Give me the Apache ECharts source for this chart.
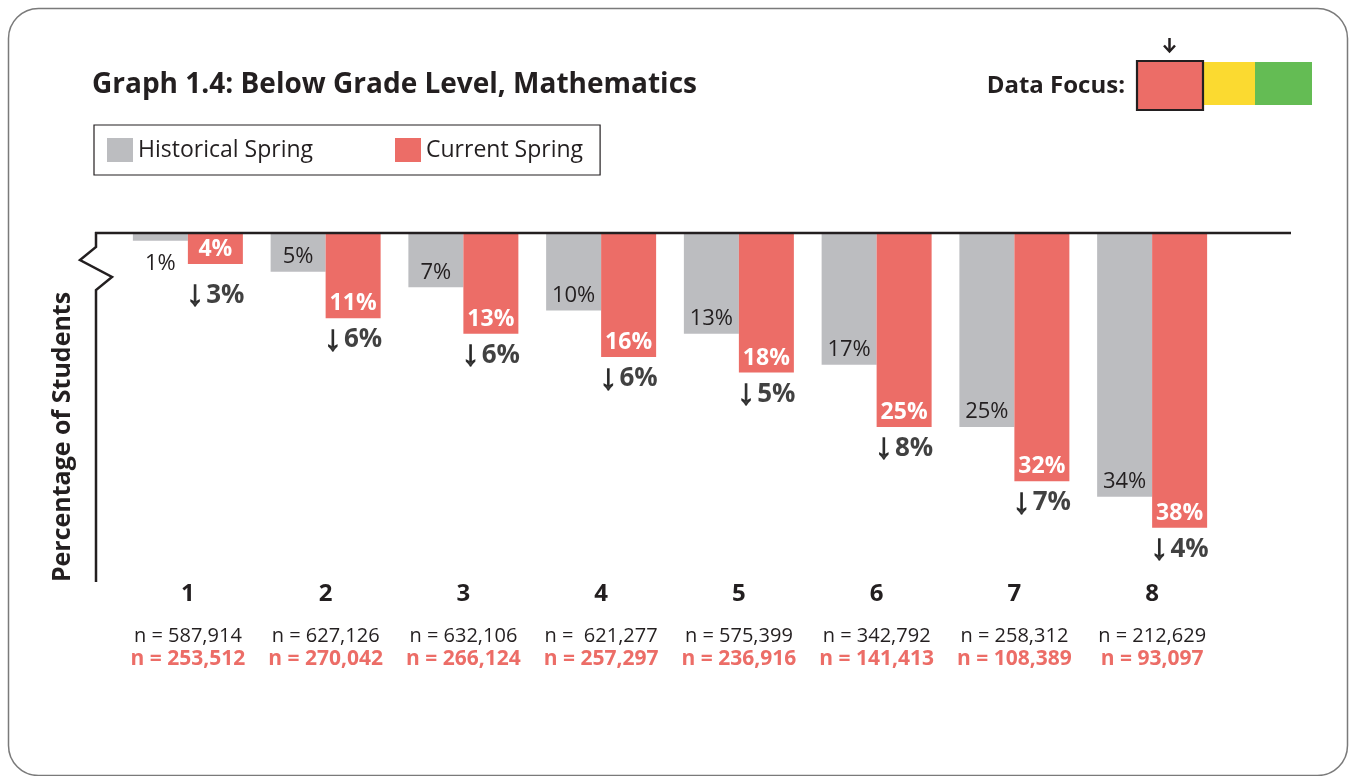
<!DOCTYPE html>
<html>
<head>
<meta charset="utf-8">
<script src="https://cdn.jsdelivr.net/npm/echarts@6/dist/echarts.min.js"></script>
<style>
html,body{margin:0;padding:0;background:#fff;}
#chart{width:1353px;height:776px;}
</style>
</head>
<body>
<div id="chart"></div>
<script>
const grades = ['1','2','3','4','5','6','7','8'];
const historical = [1, 5, 7, 10, 13, 17, 25, 34];
const current = [4, 11, 13, 16, 18, 25, 32, 38];
const changes = [3, 6, 6, 6, 5, 8, 7, 4];
const nHistorical = ['587,914','627,126','632,106',' 621,277','575,399','342,792','258,312','212,629'];
const nCurrent = ['253,512','270,042','266,124','257,297','236,916','141,413','108,389','93,097'];

const FONT = '"Open Sans", "Noto Sans", sans-serif';
const INK = '#231F20';
const GRAY = '#BCBDC0';
const RED = '#EC6D67';

const chart = echarts.init(document.getElementById('chart'), null, {renderer: 'canvas'});

const option = {
  animation: false,
  backgroundColor: '#ffffff',
  textStyle: {fontFamily: FONT},
  title: {
    text: 'Graph 1.4: Below Grade Level, Mathematics',
    left: 92, top: 71, padding: 0,
    textStyle: {fontFamily: FONT, fontSize: 28, fontWeight: 'bold', color: INK}
  },
  legend: {
    data: ['Historical Spring', 'Current Spring'],
    left: 94, top: 125,
    padding: [13, 17, 13, 13],
    borderColor: INK, borderWidth: 1.2,
    itemWidth: 26, itemHeight: 24, itemGap: 82,
    icon: 'rect',
    textStyle: {fontFamily: FONT, fontSize: 23, color: INK}
  },
  grid: {left: 119, right: 132, top: 233, bottom: 194, containLabel: false},
  xAxis: {
    type: 'category',
    data: grades,
    position: 'bottom',
    axisLine: {show: false},
    axisTick: {show: false},
    axisLabel: {
      margin: 0,
      interval: 0,
      formatter: function (v, i) {
        return '{c|' + v + '}\n{a|n = ' + nHistorical[i] + '}\n{b|n = ' + nCurrent[i] + '}';
      },
      rich: {
        c: {fontFamily: FONT, fontSize: 24, fontWeight: 'bold', color: INK, lineHeight: 24},
        a: {fontFamily: FONT, fontSize: 20, color: INK, lineHeight: 40, verticalAlign: 'bottom'},
        b: {fontFamily: FONT, fontSize: 21, fontWeight: 'bold', color: RED, lineHeight: 27}
      }
    }
  },
  yAxis: {
    type: 'value',
    inverse: true,
    min: 0, max: 45,
    show: false,
    splitLine: {show: false}
  },
  series: [
    {
      name: 'Historical Spring',
      type: 'bar',
      barWidth: 55,
      barGap: '0%',
      itemStyle: {color: GRAY},
      label: {
        show: true, position: 'insideBottom', distance: 4,
        formatter: '{c}%',
        fontFamily: FONT, fontSize: 22, color: INK
      },
      data: historical.map(function (v, i) {
        return i === 0 ? {value: v, label: {position: 'bottom', distance: 12}} : v;
      })
    },
    {
      name: 'Current Spring',
      type: 'bar',
      barWidth: 55,
      itemStyle: {color: RED},
      label: {
        show: true, position: 'insideBottom', distance: 3,
        formatter: '{c}%',
        fontFamily: FONT, fontSize: 23, fontWeight: 'bold', color: '#ffffff'
      },
      data: current
    },
    {
      name: 'Change',
      type: 'scatter',
      symbolSize: 1,
      itemStyle: {color: 'rgba(0,0,0,0)'},
      silent: true,
      label: {
        show: true, position: 'bottom', distance: 3,
        offset: [27.5, 0],
        formatter: function (p) {
          return '{ar|\u2193}{v|' + changes[p.dataIndex] + '%}';
        },
        rich: {
          ar: {fontFamily: '"Liberation Sans", "DejaVu Sans"', fontSize: 36, fontWeight: 'bold', color: '#111',
               textBorderColor: '#111', textBorderWidth: 1.2, padding: [0, 2, 0, 0]},
          v: {fontFamily: FONT, fontSize: 26, fontWeight: 'bold', color: '#111'}
        }
      },
      data: current.map(function (v, i) { return i === 0 ? {value: v, label: {distance: 13}} : v; })
    }
  ],
  graphic: [
    {type: 'rect', shape: {x: 8.5, y: 8.5, width: 1339, height: 767, r: 30},
     style: {fill: 'none', stroke: '#7a7a7a', lineWidth: 1.5}, z: -1},
    {type: 'line', shape: {x1: 95, y1: 233, x2: 1291, y2: 233},
     style: {stroke: INK, lineWidth: 2.5}, z: 10},
    {type: 'polyline', shape: {points: [[96, 232], [96, 247], [80, 260], [112, 277], [96, 290], [96, 582]]},
     style: {stroke: INK, lineWidth: 2.5, fill: 'none'}, z: 10},
    {type: 'text', x: 63, y: 437, rotation: Math.PI / 2,
     style: {text: 'Percentage of Students', fontFamily: FONT, fontSize: 25, fontWeight: 'bold',
             fill: INK, align: 'center', verticalAlign: 'middle'}},
    {type: 'text', x: 1125, y: 86,
     style: {text: 'Data Focus:', fontFamily: FONT, fontSize: 24, fontWeight: 'bold',
             fill: INK, align: 'right', verticalAlign: 'middle'}},
    {type: 'rect', shape: {x: 1203, y: 62, width: 52, height: 43}, style: {fill: '#FBDA30'}},
    {type: 'rect', shape: {x: 1255, y: 62, width: 57, height: 43}, style: {fill: '#64BC54'}},
    {type: 'rect', shape: {x: 1137, y: 61, width: 66, height: 49},
     style: {fill: RED, stroke: INK, lineWidth: 2.2}},
    {type: 'line', shape: {x1: 1169.5, y1: 38, x2: 1169.5, y2: 51},
     style: {stroke: INK, lineWidth: 2.5}},
    {type: 'polyline', shape: {points: [[1164, 45.5], [1169.5, 51.5], [1175, 45.5]]},
     style: {stroke: INK, lineWidth: 2.5, fill: 'none'}}
  ]
};

chart.setOption(option);
</script>
</body>
</html>
